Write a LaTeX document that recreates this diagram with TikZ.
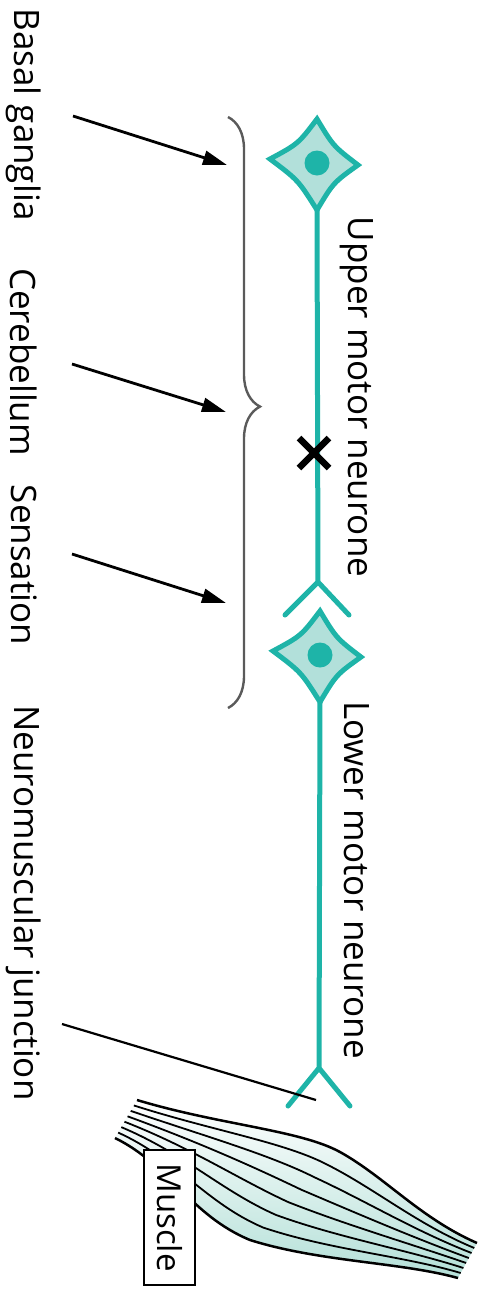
\documentclass[tikz,border=0pt]{standalone}
\usepackage{fontspec}
\setmainfont{Open Sans}
\usetikzlibrary{arrows.meta,decorations.pathreplacing,calc}
\definecolor{axon}{RGB}{30,180,168}
\definecolor{somafill}{RGB}{178,224,218}
\definecolor{musclefill}{RGB}{180,224,216}
\definecolor{bracegray}{RGB}{90,90,90}
\begin{document}
\begin{tikzpicture}[x=1pt,y=-1pt,
  lbl/.style={rotate=-90,font=\fontsize{35}{42}\selectfont,inner sep=0pt},
  nerve/.style={draw=axon,line width=5pt,line cap=round,line join=round},
  pointer/.style={draw=black,line width=2.8pt,-{Triangle[length=24pt,width=14pt]}},
  fibre/.style={line width=1.8pt},
  outline/.style={line width=2.5pt},
  soma/.pic={
    \draw[draw=axon,line width=5pt,line join=miter,fill=somafill]
      (0,-44) .. controls (16.4,-16.8) .. (41,2)
              .. controls (16.4,19.6) .. (0,47)
              .. controls (-18.8,17.2) .. (-47,-4)
              .. controls (-18.8,-19.2) .. cycle;
    \fill[axon] (0,0) circle (12.5);
    \coordinate (-top) at (0,-44);
    \coordinate (-bot) at (0,47);
  }]
\useasboundingbox (0,0) rectangle (497,1291);

% ---- muscle belly: outer fibres and the ones between them
\coordinate (T0) at (137,1100); \coordinate (T1) at (220,1125);
\coordinate (T2) at (300,1130); \coordinate (T3) at (340,1152);
\coordinate (T4) at (385,1177); \coordinate (T5) at (420,1218);
\coordinate (T6) at (477,1243);
\coordinate (B0) at (115,1138); \coordinate (B1) at (170,1165);
\coordinate (B2) at (190,1215); \coordinate (B3) at (250,1240);
\coordinate (B4) at (320,1262); \coordinate (B5) at (400,1262);
\coordinate (B6) at (458,1278);
\shade[top color=white,bottom color=musclefill]
  (T0) .. controls (T1) and (T2) .. (T3) .. controls (T4) and (T5) .. (T6)
  -- (B6) .. controls (B5) and (B4) .. (B3) .. controls (B2) and (B1) .. (B0) -- cycle;
\foreach \t in {0.143,0.286,0.429,0.571,0.714,0.857}{
  \draw[fibre] ($(T0)!\t!(B0)$) .. controls ($(T1)!\t!(B1)$) and ($(T2)!\t!(B2)$) .. ($(T3)!\t!(B3)$)
    .. controls ($(T4)!\t!(B4)$) and ($(T5)!\t!(B5)$) .. ($(T6)!\t!(B6)$);
}
\draw[outline] (T0) .. controls (T1) and (T2) .. (T3) .. controls (T4) and (T5) .. (T6);
\draw[outline] (B0) .. controls (B1) and (B2) .. (B3) .. controls (B4) and (B5) .. (B6);
\node[lbl,draw,fill=white,line width=1.8pt,minimum width=135pt,minimum height=51pt,
      font=\fontsize{33}{38}\selectfont] (muscle) at (169.5,1217.5) {Muscle};

% ---- neurones
\pic (upper) at (317,163) {soma};
\pic (lower) at (320,655) {soma};
\coordinate (fork1) at (318,582);
\coordinate (fork1l) at (285,615);
\coordinate (fork1r) at (349,615);
\coordinate (fork2) at (319,1068);
\coordinate (fork2l) at (288,1106);
\coordinate (fork2r) at (350,1106);
\draw[nerve] (upper-bot) -- (fork1) (fork1l) -- (fork1) -- (fork1r);
\draw[nerve] (lower-bot) -- (fork2) (fork2l) -- (fork2) -- (fork2r);

% ---- lesion mark on the upper axon
\coordinate (lesion) at (314,453);
\draw[line width=6.5pt] ($(lesion)+(-15,-15)$) -- ($(lesion)+(15,15)$)
                        ($(lesion)+(-15,15)$) -- ($(lesion)+(15,-15)$);

% ---- brace
\coordinate (braceA) at (228,117);
\coordinate (braceB) at (228,708);
\draw[bracegray,line width=2.4pt,decorate,decoration={brace,amplitude=32pt,aspect=0.49}]
  (braceA) -- (braceB);

% ---- labels
\node[lbl] (basal) at (24,115) {Basal ganglia};
\node[lbl] (cereb) at (24,362) {Cerebellum};
\node[lbl] (sens) at (24,565) {Sensation};
\node[lbl] (nmj) at (24,903) {Neuromuscular junction};
\node[lbl] (umn) at (357,397) {Upper motor neurone};
\node[lbl] (lmn) at (357,880) {Lower motor neurone};

% ---- influences on the upper motor neurone
\coordinate (a1s) at (73,116);  \coordinate (a1e) at (227,165);
\coordinate (a2s) at (72,364);  \coordinate (a2e) at (226,412);
\coordinate (a3s) at (72,554);  \coordinate (a3e) at (226,603);
\draw[pointer] (a1s) -- (a1e);
\draw[pointer] (a2s) -- (a2e);
\draw[pointer] (a3s) -- (a3e);

% ---- junction leader
\coordinate (nmjs) at (62,1024);
\coordinate (nmje) at (316,1100);
\draw[line width=2.2pt] (nmjs) -- (nmje);
\end{tikzpicture}
\end{document}
